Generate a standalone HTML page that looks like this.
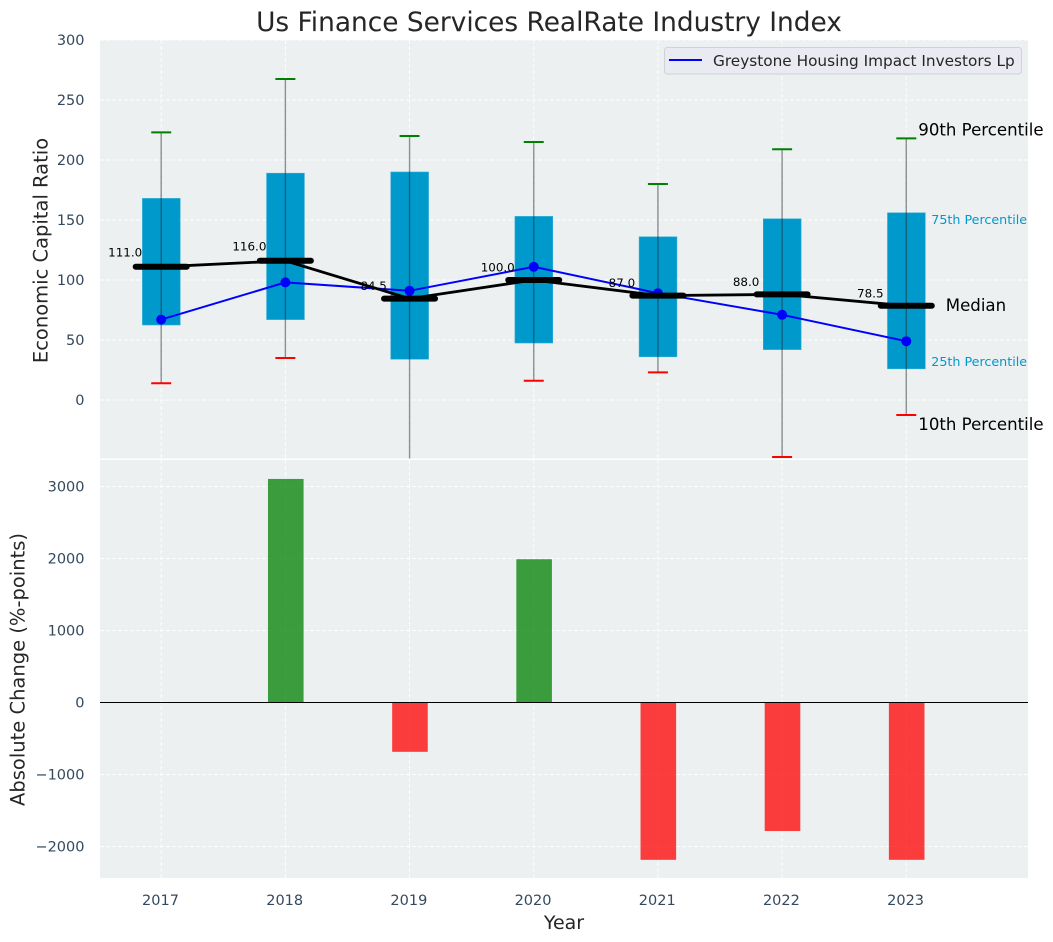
<!DOCTYPE html>
<html lang="en">
<head>
<meta charset="utf-8">
<title>Us Finance Services RealRate Industry Index</title>
<style>
html,body{margin:0;padding:0;background:#fff;width:1053px;height:942px;overflow:hidden}
svg{display:block;font-family:"DejaVu Sans","Liberation Sans",sans-serif}
</style>
</head>
<body>
<svg id="chart" xmlns="http://www.w3.org/2000/svg" width="1053" height="942" viewBox="0 0 1053 942">
  <defs>
    <clipPath id="top-clip"><rect x="100" y="40" width="928" height="418.5"></rect></clipPath>
    <clipPath id="bottom-clip"><rect x="100" y="460" width="928" height="418"></rect></clipPath>
  </defs>
  <text x="549" y="31" text-anchor="middle" font-size="26.4" fill="#262626">Us Finance Services RealRate Industry Index</text>
  <rect x="100" y="40" width="928" height="418.5" fill="#ecf0f1"></rect>
  <rect x="100" y="460" width="928" height="418" fill="#ecf0f1"></rect>
  <g id="top-grid"></g>
  <g id="bottom-grid"></g>
  <g id="top-marks" clip-path="url(#top-clip)"></g>
  <g id="bottom-marks" clip-path="url(#bottom-clip)"></g>
  <g id="labels"></g>
  <text transform="translate(47.5 250.5) rotate(-90)" text-anchor="middle" font-size="19.5" fill="#262626">Economic Capital Ratio</text>
  <text transform="translate(24.5 669.5) rotate(-90)" text-anchor="middle" font-size="19.5" fill="#262626">Absolute Change (%-points)</text>
  <text x="564" y="929" text-anchor="middle" font-size="19" fill="#262626">Year</text>
  <g>
    <rect x="664.5" y="47.5" width="357" height="26.5" rx="3" fill="#eaeaf2" stroke="#cfd2d6" stroke-width="1"></rect>
    <line x1="669" y1="60" x2="702" y2="60" stroke="#0000ff" stroke-width="2"></line>
    <text x="713" y="66" font-size="15.3" fill="#262626">Greystone Housing Impact Investors Lp</text>
  </g>
</svg>
<script>
const years = [2017, 2018, 2019, 2020, 2021, 2022, 2023];
const p90 = [223, 267.5, 220, 215, 180, 209, 218];
const p75 = [168, 189, 190, 153, 136, 151, 156];
const medians = [111, 116, 84.5, 100, 87, 88, 78.5];
const p25 = [62.5, 67, 34, 47.5, 36, 42, 26];
const p10 = [14, 35, -60, 16, 23, -47.5, -12.5];
const company = [67, 98, 91, 111, 89, 71, 49];
const changes = [0, 3105, -685, 1990, -2185, -1785, -2185];
const topTicks = [0, 50, 100, 150, 200, 250, 300];
const bottomTicks = [-2000, -1000, 0, 1000, 2000, 3000];

const NS = 'http://www.w3.org/2000/svg';
const xPos = function (year) { return 161.2 + (year - 2017) * 124.18; };
const yTop = function (v) { return 400 - v * 1.2; };
const yBottom = function (v) { return 702.5 - v * 0.072; };
const topGrid = document.getElementById('top-grid');
const bottomGrid = document.getElementById('bottom-grid');
const topMarks = document.getElementById('top-marks');
const bottomMarks = document.getElementById('bottom-marks');
const labels = document.getElementById('labels');

function make(tag, parent, attrs, content) {
  const el = document.createElementNS(NS, tag);
  Object.keys(attrs).forEach(function (k) { el.setAttribute(k, attrs[k]); });
  if (content !== undefined) el.textContent = content;
  parent.appendChild(el);
  return el;
}
const gridStyle = { stroke: '#ffffff', 'stroke-width': 1, 'stroke-dasharray': '4 2', 'stroke-opacity': 0.85 };
const tickColor = '#34495e';
const tickSize = 14.5;

topTicks.forEach(function (t) {
  const line = make('line', topGrid, Object.assign({ x1: 100, x2: 1028, y1: yTop(t), y2: yTop(t) }, gridStyle));
  
  
  const label = make('text', labels, { x: 84.5, y: yTop(t) + 5, 'text-anchor': 'end', 'font-size': tickSize, fill: tickColor }, String(t));
  
  
});

bottomTicks.forEach(function (t) {
  const line = make('line', bottomGrid, Object.assign({ x1: 100, x2: 1028, y1: yBottom(t), y2: yBottom(t) }, gridStyle));
  
  
  const text = t < 0 ? '\u2212' + Math.abs(t) : String(t);
  const label = make('text', labels, { x: 84.5, y: yBottom(t) + 5, 'text-anchor': 'end', 'font-size': tickSize, fill: tickColor }, text);
  
  
});

years.forEach(function (year) {
  const x = xPos(year);
  const g1 = make('line', topGrid, Object.assign({ x1: x, x2: x, y1: 40, y2: 458.5 }, gridStyle));
  
  
  const g2 = make('line', bottomGrid, Object.assign({ x1: x, x2: x, y1: 460, y2: 878 }, gridStyle));
  
  
  const label = make('text', labels, { x: x - 0.7, y: 905, 'text-anchor': 'middle', 'font-size': tickSize, fill: tickColor }, String(year));
  
  
});

years.forEach(function (year, i) {
  const x = xPos(year);
  const box = make('rect', topMarks, { x: x + 0.1 - 18.9, width: 37.8, y: yTop(p75[i]), height: yTop(p25[i]) - yTop(p75[i]), fill: '#0099cc', stroke: '#33add6', 'stroke-width': 0.6 });
  
  
  const whisker = make('line', topMarks, { x1: x, x2: x, y1: yTop(p90[i]), y2: yTop(p10[i]), stroke: '#1f2a30', 'stroke-width': 1.4, 'stroke-opacity': 0.5 });
  
  
  const capHigh = make('line', topMarks, { x1: x - 10, x2: x + 10, y1: yTop(p90[i]), y2: yTop(p90[i]), stroke: '#008000', 'stroke-width': 2 });
  
  
  const capLow = make('line', topMarks, { x1: x - 10, x2: x + 10, y1: yTop(p10[i]), y2: yTop(p10[i]), stroke: '#ff0000', 'stroke-width': 2 });
  
  
});

const companyPath = make('polyline', topMarks, {
  points: years.map(function (y, i) { return xPos(y) + ',' + yTop(company[i]); }).join(' '),
  fill: 'none', stroke: '#0000ff', 'stroke-width': 2
});



years.forEach(function (year, i) {
  const dot = make('circle', topMarks, { cx: xPos(year), cy: yTop(company[i]), r: 5, fill: '#0000ff' });
  
  
});

const medianPath = make('polyline', topMarks, {
  points: years.map(function (y, i) { return xPos(y) + ',' + yTop(medians[i]); }).join(' '),
  fill: 'none', stroke: '#000000', 'stroke-width': 2.8
});



years.forEach(function (year, i) {
  const x = xPos(year);
  const bar = make('line', topMarks, { x1: x - 25.5, x2: x + 25.5, y1: yTop(medians[i]), y2: yTop(medians[i]), stroke: '#000000', 'stroke-width': 6, 'stroke-linecap': 'round' });
  
  
  const lift = medians[i] > 105 ? 10.5 : 8.5;
  const label = make('text', labels, { x: x - 36, y: yTop(medians[i]) - lift, 'text-anchor': 'middle', 'font-size': 11.9, fill: '#000000' }, medians[i].toFixed(1));
  
  
});

years.forEach(function (year, i) {
  const v = changes[i];
  if (v === 0) return;
  const bar = make('rect', bottomMarks, {
    x: xPos(year) + 0.4 - 17.8, width: 35.6,
    y: Math.min(yBottom(v), yBottom(0)), height: Math.abs(yBottom(v) - yBottom(0)),
    fill: v > 0 ? '#008000' : '#ff0000', 'fill-opacity': 0.75
  });
  
  
});

const zeroLine = make('line', bottomMarks, { x1: 100, x2: 1028, y1: yBottom(0), y2: yBottom(0), stroke: '#000000', 'stroke-width': 1.1 });



const last = years.length - 1;
const lastX = xPos(years[last]);
const p90Label = make('text', labels, { x: lastX + 12, y: yTop(p90[last]) - 3, 'font-size': 16.6, fill: '#000000' }, '90th Percentile');


const p75Label = make('text', labels, { x: lastX + 25, y: yTop(p75[last]) + 11, 'font-size': 12.7, fill: '#0099cc' }, '75th Percentile');


const medianLabel = make('text', labels, { x: lastX + 39.5, y: yTop(medians[last]) + 5, 'font-size': 16.6, fill: '#000000' }, 'Median');


const p25Label = make('text', labels, { x: lastX + 25, y: yTop(p25[last]) - 3, 'font-size': 12.7, fill: '#0099cc' }, '25th Percentile');


const p10Label = make('text', labels, { x: lastX + 12, y: yTop(p10[last]) + 15, 'font-size': 16.6, fill: '#000000' }, '10th Percentile');


</script>
</body>
</html>
